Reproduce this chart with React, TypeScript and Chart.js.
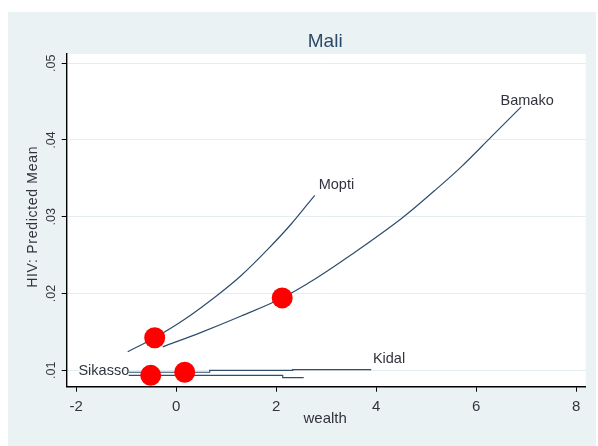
import { useEffect, useRef } from "react";
import { Chart, registerables } from "chart.js";

Chart.register(...registerables);

// Axis ticks
const xTicks = [-2, 0, 2, 4, 6, 8];
const xTickLabels = ["-2", "0", "2", "4", "6", "8"];
const yTicks = [0.01, 0.02, 0.03, 0.04, 0.05];
const yTickLabels = [".01", ".02", ".03", ".04", ".05"];

// Predicted HIV prevalence by wealth, per region
const moptiX = [-0.97, -0.43, 0.17, 0.83, 1.3, 1.83, 2.3, 2.77];
const moptiY = [0.01242, 0.01425, 0.01665, 0.01982, 0.02235, 0.02575, 0.02906, 0.03280];

const bamakoX = [-0.27, 0.5, 1.3, 2.12, 2.8, 3.5, 4.5, 5.17, 5.7, 6.3, 6.9];
const bamakoY = [0.01306, 0.01495, 0.01708, 0.01943, 0.0220, 0.02505, 0.02975, 0.03342, 0.03650, 0.04040, 0.04432];

const kidalX = [-0.95, 0.67, 0.67, 2.33, 2.33, 3.9];
const kidalY = [0.00975, 0.00975, 0.00999, 0.00999, 0.01009, 0.01009];

const sikassoX = [-0.95, 2.13, 2.13, 2.55];
const sikassoY = [0.00935, 0.00935, 0.00906, 0.00906];

// Regional means (red markers)
const meanX = [-0.43, 2.12, -0.51, 0.17];
const meanY = [0.01425, 0.01943, 0.00935, 0.00975];

const title = "Mali";
const xTitle = "wealth";
const yTitle = "HIV: Predicted Mean";

const LINE_COLOR = "#2f4d6d";
const TEXT_COLOR = "#33333f";
const FONT = "Arial, 'Liberation Sans', sans-serif";

const toPoints = (xs: number[], ys: number[]) => xs.map((x, i) => ({ x, y: ys[i] }));

// Series-name labels: which point they hang off, and pixel offsets/alignment
const seriesLabels = [
  { text: "Mopti", xs: moptiX, ys: moptiY, at: "last", dx: 4, dy: -6.7, align: "left" },
  { text: "Bamako", xs: bamakoX, ys: bamakoY, at: "last", dx: -20.7, dy: -2, align: "left" },
  { text: "Kidal", xs: kidalX, ys: kidalY, at: "last", dx: 1.7, dy: -7, align: "left" },
  { text: "Sikasso", xs: sikassoX, ys: sikassoY, at: "first", dx: 0.5, dy: 0, align: "right" },
] as const;

const decorPlugin = {
  id: "decor",
  beforeDraw(chart: any) {
    const { ctx, chartArea } = chart;
    ctx.save();
    ctx.fillStyle = "#ffffff";
    ctx.fillRect(0, 0, chart.width, chart.height);
    ctx.fillStyle = "#eaf2f3";
    ctx.fillRect(8, 12, 588, 434);
    ctx.fillStyle = "#ffffff";
    ctx.fillRect(chartArea.left, chartArea.top, chartArea.right - chartArea.left, chartArea.bottom - chartArea.top);
    ctx.restore();
  },
  afterDraw(chart: any) {
    const { ctx, chartArea } = chart;
    const xs = chart.scales.x;
    const ys = chart.scales.y;
    const cx = (chartArea.left + chartArea.right) / 2;
    ctx.save();

    // Panel title
    ctx.fillStyle = "#2c4a6a";
    ctx.font = `19px ${FONT}`;
    ctx.textAlign = "center";
    ctx.textBaseline = "alphabetic";
    ctx.fillText(title, cx - 1, 46.5);

    // X tick labels and title
    ctx.fillStyle = TEXT_COLOR;
    ctx.font = `15px ${FONT}`;
    xTicks.forEach((v, i) => {
      ctx.fillText(xTickLabels[i], xs.getPixelForValue(v), chartArea.bottom + 24);
    });
    ctx.fillText(xTitle, cx - 1, chartArea.bottom + 36.6);

    // Y tick labels, rotated
    ctx.font = `12.5px ${FONT}`;
    yTicks.forEach((v, i) => {
      ctx.save();
      ctx.translate(chartArea.left - 11.7, ys.getPixelForValue(v));
      ctx.rotate(-Math.PI / 2);
      ctx.textAlign = "center";
      ctx.fillText(yTickLabels[i], 0, 0);
      ctx.restore();
    });

    // Y title, rotated
    ctx.save();
    ctx.font = `14px ${FONT}`;
    (ctx as any).letterSpacing = "0.7px";
    ctx.translate(36.7, (chartArea.top + chartArea.bottom) / 2 - 3.5);
    ctx.rotate(-Math.PI / 2);
    ctx.textAlign = "center";
    ctx.fillText(yTitle, 0, 0);
    ctx.restore();

    // Series names
    ctx.font = `14.5px ${FONT}`;
    seriesLabels.forEach((s) => {
      const idx = s.at === "last" ? s.xs.length - 1 : 0;
      const px = xs.getPixelForValue(s.xs[idx]);
      const py = ys.getPixelForValue(s.ys[idx]);
      ctx.textAlign = s.align;
      ctx.fillText(s.text, px + s.dx, py + s.dy);
    });

    ctx.restore();
  },
};

export default function App() {
  const ref = useRef<HTMLCanvasElement>(null);

  useEffect(() => {
    const canvas = ref.current;
    if (!canvas) return;

    const lineStyle = {
      borderColor: LINE_COLOR,
      borderWidth: 1.2,
      pointRadius: 0,
      fill: false,
      order: 1,
    };

    const chart = new Chart(canvas, {
      type: "line",
      data: {
        datasets: [
          {
            label: "means",
            data: toPoints(meanX, meanY),
            showLine: false,
            pointRadius: 10.5,
            pointBackgroundColor: "#ff0000",
            pointBorderWidth: 0,
            pointBorderColor: "#ff0000",
            order: 0,
          },
          { label: "Mopti", data: toPoints(moptiX, moptiY), tension: 0.35, ...lineStyle },
          { label: "Bamako", data: toPoints(bamakoX, bamakoY), tension: 0.35, ...lineStyle },
          { label: "Kidal", data: toPoints(kidalX, kidalY), tension: 0, ...lineStyle },
          { label: "Sikasso", data: toPoints(sikassoX, sikassoY), tension: 0, ...lineStyle },
        ],
      },
      options: {
        responsive: false,
        animation: false,
        devicePixelRatio: 1,
        layout: { padding: { left: 0, top: 54, right: 12.3, bottom: 0 } },
        plugins: {
          legend: { display: false },
          tooltip: { enabled: false },
        },
        scales: {
          x: {
            type: "linear",
            min: -2.19,
            max: 8.19,
            afterBuildTicks: (scale: any) => {
              scale.ticks = xTicks.map((value) => ({ value }));
            },
            afterFit: (scale: any) => {
              scale.height = 59.3;
            },
            ticks: { display: false },
            grid: {
              drawOnChartArea: false,
              drawTicks: true,
              tickLength: 5,
              tickColor: "#000000",
              tickWidth: 1,
            },
            border: { display: true, color: "#000000", width: 1.4 },
          },
          y: {
            type: "linear",
            min: 0.00787,
            max: 0.0512,
            afterBuildTicks: (scale: any) => {
              scale.ticks = yTicks.map((value) => ({ value }));
            },
            afterFit: (scale: any) => {
              scale.width = 66.7;
            },
            ticks: { display: false },
            grid: {
              drawOnChartArea: true,
              color: "#e4edf0",
              lineWidth: 1,
              drawTicks: true,
              tickLength: 5,
              tickColor: "#000000",
              tickWidth: 1,
            },
            border: { display: true, color: "#000000", width: 1.4 },
          },
        },
      } as any,
      plugins: [decorPlugin],
    });

    return () => chart.destroy();
  }, []);

  return (
    <div style={{ position: "absolute", left: 0, top: 0, width: 598, height: 446, background: "#ffffff" }}>
      <canvas ref={ref} width={598} height={446} style={{ display: "block" }} />
    </div>
  );
}
